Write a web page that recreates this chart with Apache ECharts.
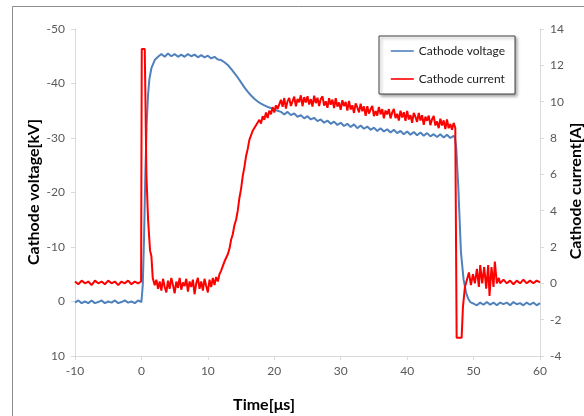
<!DOCTYPE html>
<html>
<head>
<meta charset="utf-8">
<script src="https://cdn.jsdelivr.net/npm/echarts@6/dist/echarts.min.js"></script>
<style>
html,body{margin:0;padding:0;background:#fff;}
#chart{width:584px;height:416px;}
</style>
</head>
<body>
<div id="chart"></div>
<script>
// Axis ticks
const xTicks = [-10, 0, 10, 20, 30, 40, 50, 60];
const voltageTicks = [-50, -40, -30, -20, -10, 0, 10];
const currentTicks = [-4, -2, 0, 2, 4, 6, 8, 10, 12, 14];

// Cathode voltage [kV]
const timeV = [
  -10,-9.5,-9,-8.5,-8,-7.5,-7,-6.5,-6,-5.5,-5,-4.5,-4,-3.5,-3,-2.5,-2,-1.5,-1,-0.5,0,
  0.2,0.4,0.6,0.8,1.0,1.2,1.5,2.0,2.5,
  3,3.5,4,4.5,5,5.5,6,6.5,7,7.5,8,8.5,9,9.5,10,10.5,11,11.5,12,12.5,13,13.5,14,14.5,15,15.5,16,16.5,17,17.5,18,18.5,19,19.5,20,20.5,
  21,21.5,22,22.5,23,23.5,24,24.5,25,25.5,26,26.5,27,27.5,28,28.5,29,29.5,30,30.5,31,31.5,32,32.5,33,33.5,34,34.5,35,35.5,36,36.5,37,37.5,38,38.5,39,39.5,40,40.5,41,41.5,42,42.5,43,43.5,44,44.5,45,45.5,46,46.5,47,47.2,
  47.4,47.7,48.1,48.5,48.9,49.2,49.5,50,
  50.5,51,51.5,52,52.5,53,53.5,54,54.5,55,55.5,56,56.5,57,57.5,58,58.5,59,59.5,60
];
const voltage = [
  0.2,-0.2,0.3,0.0,0.3,-0.2,0.3,0.1,-0.2,0.3,0.0,0.2,-0.2,0.3,0.1,-0.2,0.2,0.0,0.3,-0.2,0.1,
  -3,-12,-24,-33,-38,-40.8,-42.8,-44.3,-44.9,
  -45.4,-44.9,-45.5,-45.0,-45.4,-44.9,-45.3,-44.9,-45.4,-45.0,-45.3,-44.8,-45.2,-44.8,-45.1,-44.6,-44.9,-44.4,-44.3,-43.9,-43.4,-42.7,-41.9,-41.1,-40.2,-39.3,-38.5,-37.8,-37.2,-36.7,-36.3,-36.0,-35.7,-35.5,-35.2,-35.0,
  -34.8,-34.3,-34.8,-34.2,-34.5,-33.9,-34.2,-33.6,-34.0,-33.4,-33.7,-33.1,-33.4,-32.8,-33.2,-32.6,-33.0,-32.4,-32.8,-32.2,-32.6,-32.0,-32.5,-31.8,-32.3,-31.7,-32.1,-31.5,-31.9,-31.3,-31.8,-31.2,-31.6,-31.0,-31.5,-30.9,-31.3,-30.7,-31.2,-30.6,-31.1,-30.5,-31.0,-30.4,-30.9,-30.3,-30.7,-30.2,-30.7,-30.1,-30.6,-30.0,-30.4,-30.0,
  -28,-21,-9,-4,-1.5,-0.5,0.1,0.4,
  0.7,0.2,0.6,0.1,0.6,0.2,0.7,0.2,0.5,0.2,0.7,0.1,0.5,0.3,0.7,0.2,0.6,0.2,0.7,0.3
];

// Cathode current [A]
const timeI = [
  -10,-9.5,-9,-8.5,-8,-7.5,-7,-6.5,-6,-5.5,-5,-4.5,-4,-3.5,-3,-2.5,-2,-1.5,-1,-0.5,-0.05,
  0.05,0.5,0.75,1.0,1.3,1.5,1.7,
  2,2.25,2.5,2.75,3,3.25,3.5,3.75,4,4.25,4.5,4.75,5,5.25,5.5,5.75,6,6.25,6.5,6.75,7,7.25,7.5,7.75,8,8.25,8.5,8.75,9,9.25,9.5,9.75,10,10.25,10.5,10.75,11,11.25,11.5,11.75,
  12,12.25,12.5,12.75,13,13.25,13.5,13.75,14,14.25,14.5,14.75,15,15.25,15.5,15.75,16,16.25,16.5,16.75,17,17.25,17.5,17.75,18,18.25,18.5,18.75,19,19.25,19.5,19.75,20,20.25,20.5,
  20.75,21,21.25,21.5,21.75,22,22.25,22.5,22.75,23,23.25,23.5,23.75,24,24.25,24.5,24.75,25,25.25,25.5,25.75,26,26.25,26.5,26.75,27,27.25,27.5,27.75,28,28.25,28.5,28.75,29,29.25,29.5,29.75,30,
  30.25,30.5,30.75,31,31.25,31.5,31.75,32,32.25,32.5,32.75,33,33.25,33.5,33.75,34,34.25,34.5,34.75,35,35.25,35.5,35.75,36,36.25,36.5,36.75,37,37.25,37.5,37.75,38,38.25,38.5,38.75,39,
  39.25,39.5,39.75,40,40.25,40.5,40.75,41,41.25,41.5,41.75,42,42.25,42.5,42.75,43,43.25,43.5,43.75,44,44.25,44.5,44.75,45,45.25,45.5,45.75,46,46.25,46.5,46.75,47,47.25,
  47.45,48.2,48.4,48.7,49,
  49.3,49.6,49.9,50.2,50.5,50.8,51.0,51.3,51.6,51.9,52.2,52.4,52.7,53.0,53.2,53.5,53.8,
  54,54.5,55,55.5,56,56.5,57,57.5,58,58.5,59,59.5,60
];
const current = [
  0.1,-0.05,0.15,0.0,0.1,-0.1,0.15,0.0,0.1,-0.05,0.15,0.0,0.1,-0.1,0.1,0.0,0.15,-0.05,0.1,0.0,0.1,
  12.9,12.9,6,3.5,1.8,1.5,0.3,
  -0.1,0.2,-0.3,0.1,-0.4,0.25,-0.2,-0.5,0.15,-0.3,0.3,-0.1,-0.55,0.1,-0.25,0.3,-0.35,0.05,-0.15,0.25,-0.45,0.1,-0.2,0.2,-0.6,0.0,0.3,-0.3,0.1,-0.4,0.25,-0.15,-0.5,0.2,-0.2,0.3,-0.1,0.35,0.1,0.5,
  0.7,0.95,1.2,1.3,1.6,1.9,2.4,2.7,3.2,3.5,4.0,4.7,5.2,5.9,6.4,7.0,7.4,7.9,8.0,8.4,8.3,8.7,8.6,9.0,8.8,9.2,9.0,9.4,9.1,9.5,9.3,9.7,9.4,9.8,9.6,
  9.6,10.1,9.72,10.2,9.62,10.03,10.2,9.76,10.02,10.28,9.74,10.15,9.97,10.35,9.75,10.25,9.95,10.3,9.84,10.14,9.73,10.33,9.92,10.22,9.76,10.15,10.29,9.78,10.02,9.66,10.19,9.83,10.11,9.65,10.19,9.73,9.96,9.55,
  10.08,9.76,9.99,9.51,10.04,9.57,9.8,9.38,9.91,9.68,9.41,9.89,9.47,9.74,9.22,9.75,9.34,9.58,9.76,9.2,9.49,9.23,9.71,9.3,9.59,9.08,9.51,9.3,9.59,9.08,9.41,9.6,9.09,9.33,8.96,9.5,
  9.13,9.42,8.95,9.49,9.02,9.26,8.84,9.38,9.16,8.89,9.38,8.96,9.25,8.73,9.17,8.95,9.23,8.71,9.03,9.21,8.69,8.91,8.54,9.06,8.69,8.97,8.49,9.02,8.54,8.77,8.45,8.83,8.55,
  -3.0,-3.0,-1.3,-0.2,0.2,
  0.6,-0.1,0.5,0.0,0.8,-0.2,1.0,0.0,0.9,-0.3,1.0,-0.7,0.9,-0.2,1.2,0.0,0.3,
  0.0,0.2,0.0,0.15,-0.05,0.15,0.0,0.2,0.0,0.15,0.0,0.15,0.05
];

const seriesNames = ['Cathode voltage', 'Cathode current'];

const voltageData = timeV.map((t, i) => [t, voltage[i]]);
const currentData = timeI.map((t, i) => [t, current[i]]);

const chart = echarts.init(document.getElementById('chart'), null, {renderer: 'canvas'});
const axisGrey = '#d9d9d9';
const labelGrey = '#595959';
const fontFam = 'Lato, "Open Sans", sans-serif';

chart.setOption({
  animation: false,
  backgroundColor: '#fff',
  grid: {left: 75, right: 44, top: 29, bottom: 60, containLabel: false},
  xAxis: {
    type: 'value', min: xTicks[0], max: xTicks[xTicks.length - 1], interval: 10,
    axisLine: {show: true, onZero: false, lineStyle: {color: axisGrey, width: 1}},
    axisTick: {show: true, inside: false, length: 4, lineStyle: {color: axisGrey}},
    axisLabel: {color: labelGrey, fontSize: 12, fontFamily: fontFam, margin: 9},
    splitLine: {show: false}
  },
  yAxis: [
    {
      type: 'value', min: voltageTicks[0], max: voltageTicks[voltageTicks.length - 1], interval: 10,
      inverse: true, position: 'left',
      axisLine: {show: true, onZero: false, lineStyle: {color: axisGrey, width: 1}},
      axisTick: {show: true, inside: false, length: 4, lineStyle: {color: axisGrey}},
      axisLabel: {color: labelGrey, fontSize: 12, fontFamily: fontFam, margin: 10},
      splitLine: {show: false}
    },
    {
      type: 'value', min: currentTicks[0], max: currentTicks[currentTicks.length - 1], interval: 2,
      position: 'right',
      axisLine: {show: true, onZero: false, lineStyle: {color: axisGrey, width: 1}},
      axisTick: {show: true, inside: false, length: 4, lineStyle: {color: axisGrey}},
      axisLabel: {color: labelGrey, fontSize: 12, fontFamily: fontFam, margin: 10},
      splitLine: {show: false}
    }
  ],
  legend: {
    data: seriesNames,
    orient: 'vertical',
    left: 379, top: 36,
    padding: [9, 10, 9, 11],
    itemGap: 16,
    itemWidth: 23, itemHeight: 14,
    itemStyle: {opacity: 0},
    lineStyle: {width: 1.6},
    backgroundColor: '#fff',
    borderColor: '#404040', borderWidth: 1, borderRadius: 0,
    shadowColor: 'rgba(0,0,0,0.35)', shadowBlur: 3, shadowOffsetX: 2, shadowOffsetY: 2,
    textStyle: {color: '#1a1a1a', fontSize: 12, fontFamily: fontFam},
    selectedMode: false
  },
  graphic: [
    {type: 'rect', silent: true, z: -1, shape: {x: 12.5, y: 6.5, width: 700, height: 500},
      style: {fill: 'none', stroke: '#8c8c8c', lineWidth: 1}},
    {type: 'text', x: 34, y: 192, rotation: Math.PI / 2,
      style: {text: 'Cathode voltage[kV]', font: 'bold 16px ' + fontFam, fill: '#000', align: 'center', verticalAlign: 'middle'}},
    {type: 'text', x: 576, y: 191, rotation: Math.PI / 2,
      style: {text: 'Cathode current[A]', font: 'bold 16px ' + fontFam, fill: '#000', align: 'center', verticalAlign: 'middle'}},
    {type: 'text', x: 264, y: 405,
      style: {text: 'Time[μs]', font: 'bold 16px ' + fontFam, fill: '#000', align: 'center', verticalAlign: 'middle'}}
  ],
  series: [
    {
      name: seriesNames[0], type: 'line', yAxisIndex: 0, data: voltageData,
      symbol: 'none', showSymbol: false,
      lineStyle: {color: '#4f81bd', width: 2}, itemStyle: {color: '#4f81bd'}, z: 2
    },
    {
      name: seriesNames[1], type: 'line', yAxisIndex: 1, data: currentData,
      symbol: 'none', showSymbol: false,
      lineStyle: {color: '#ff0000', width: 2}, itemStyle: {color: '#ff0000'}, z: 3
    }
  ]
});
</script>
</body>
</html>
